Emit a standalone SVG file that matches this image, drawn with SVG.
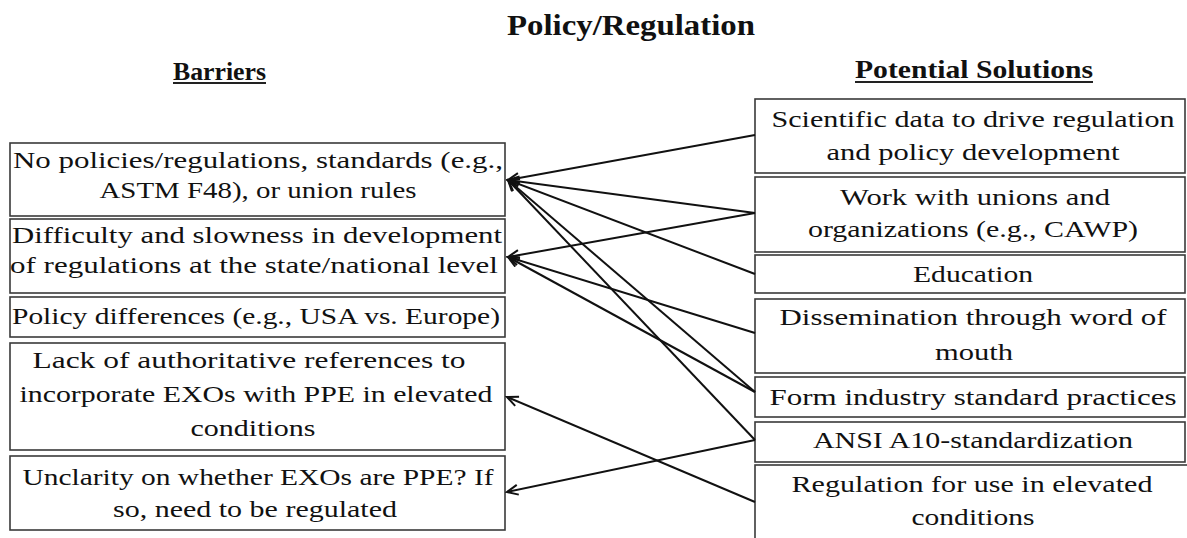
<svg xmlns="http://www.w3.org/2000/svg" width="1187" height="538" viewBox="0 0 1187 538">
<style>
  .box { fill: #ffffff; stroke: #3a3a3a; stroke-width: 1.6; }
  .t { font-family: "Liberation Serif", "Times New Roman", serif; font-size: 23px; fill: #111; text-anchor: middle; }
  .h { font-family: "Liberation Serif", "Times New Roman", serif; font-weight: bold; fill: #111; text-anchor: middle; }
  .ul { stroke: #222; stroke-width: 2; }
  .conn line { stroke: #111; stroke-width: 2; marker-end: url(#arr); }
</style>
<defs>
  <marker id="arr" markerUnits="userSpaceOnUse" markerWidth="14" markerHeight="14" refX="12" refY="6" orient="auto">
    <path d="M1,1 L12,6 L1,11" fill="none" stroke="#111" stroke-width="2"/>
  </marker>
</defs>
<rect width="1187" height="538" fill="#ffffff"/>

<g id="title">
  <text class="h" x="631" y="35" font-size="30" textLength="248" lengthAdjust="spacingAndGlyphs">Policy/Regulation</text>
</g>
<g id="header-barriers">
  <text class="h" x="219.5" y="80" font-size="26" textLength="93" lengthAdjust="spacingAndGlyphs">Barriers</text>
  <line class="ul" x1="173" y1="83" x2="266" y2="83"/>
</g>
<g id="header-solutions">
  <text class="h" x="974" y="78" font-size="26" textLength="238" lengthAdjust="spacingAndGlyphs">Potential Solutions</text>
  <line class="ul" x1="855" y1="82" x2="1093" y2="82"/>
</g>

<!-- Barriers -->
<g id="b1">
  <rect class="box" x="10" y="143" width="495" height="73"/>
  <text class="t" x="258" y="168" textLength="490" lengthAdjust="spacingAndGlyphs">No policies/regulations, standards (e.g.,</text>
  <text class="t" x="258" y="198" textLength="317" lengthAdjust="spacingAndGlyphs">ASTM F48), or union rules</text>
</g>
<g id="b2">
  <rect class="box" x="10" y="219" width="495" height="74"/>
  <text class="t" x="257" y="243" textLength="490" lengthAdjust="spacingAndGlyphs">Difficulty and slowness in development</text>
  <text class="t" x="254" y="273" textLength="488" lengthAdjust="spacingAndGlyphs">of regulations at the state/national level</text>
</g>
<g id="b3">
  <rect class="box" x="10" y="297" width="495" height="40"/>
  <text class="t" x="256" y="324" textLength="488" lengthAdjust="spacingAndGlyphs">Policy differences (e.g., USA vs. Europe)</text>
</g>
<g id="b4">
  <rect class="box" x="10" y="343" width="495" height="107"/>
  <text class="t" x="249" y="368" textLength="433" lengthAdjust="spacingAndGlyphs">Lack of authoritative references to</text>
  <text class="t" x="256" y="402" textLength="473" lengthAdjust="spacingAndGlyphs">incorporate EXOs with PPE in elevated</text>
  <text class="t" x="253" y="436" textLength="125" lengthAdjust="spacingAndGlyphs">conditions</text>
</g>
<g id="b5">
  <rect class="box" x="10" y="456" width="495" height="74"/>
  <text class="t" x="258" y="485" textLength="471" lengthAdjust="spacingAndGlyphs">Unclarity on whether EXOs are PPE? If</text>
  <text class="t" x="255" y="517" textLength="284" lengthAdjust="spacingAndGlyphs">so, need to be regulated</text>
</g>

<!-- Solutions -->
<g id="s1">
  <rect class="box" x="755" y="99" width="430" height="74"/>
  <text class="t" x="973" y="127" textLength="403" lengthAdjust="spacingAndGlyphs">Scientific data to drive regulation</text>
  <text class="t" x="973" y="160" textLength="293" lengthAdjust="spacingAndGlyphs">and policy development</text>
</g>
<g id="s2">
  <rect class="box" x="755" y="177" width="430" height="75"/>
  <text class="t" x="975" y="205" textLength="270" lengthAdjust="spacingAndGlyphs">Work with unions and</text>
  <text class="t" x="973" y="237" textLength="330" lengthAdjust="spacingAndGlyphs">organizations (e.g., CAWP)</text>
</g>
<g id="s3">
  <rect class="box" x="755" y="255" width="430" height="38"/>
  <text class="t" x="973" y="282" textLength="120" lengthAdjust="spacingAndGlyphs">Education</text>
</g>
<g id="s4">
  <rect class="box" x="755" y="299" width="430" height="74"/>
  <text class="t" x="973" y="325" textLength="387" lengthAdjust="spacingAndGlyphs">Dissemination through word of</text>
  <text class="t" x="974" y="360" textLength="78" lengthAdjust="spacingAndGlyphs">mouth</text>
</g>
<g id="s5">
  <rect class="box" x="755" y="377" width="430" height="40"/>
  <text class="t" x="973" y="405" textLength="407" lengthAdjust="spacingAndGlyphs">Form industry standard practices</text>
</g>
<g id="s6">
  <rect class="box" x="755" y="422" width="430" height="40"/>
  <text class="t" x="973" y="448" textLength="320" lengthAdjust="spacingAndGlyphs">ANSI A10-standardization</text>
</g>
<g id="s7">
  <rect class="box" x="755" y="465" width="440" height="85"/>
  <text class="t" x="972" y="492" textLength="361" lengthAdjust="spacingAndGlyphs">Regulation for use in elevated</text>
  <text class="t" x="973" y="525" textLength="123" lengthAdjust="spacingAndGlyphs">conditions</text>
</g>

<g id="connectors" class="conn">
  <line x1="755" y1="135" x2="508" y2="180"/>
  <line x1="755" y1="213" x2="508" y2="180"/>
  <line x1="755" y1="274" x2="508" y2="180"/>
  <line x1="755" y1="392" x2="508" y2="180"/>
  <line x1="755" y1="440" x2="508" y2="180"/>
  <line x1="755" y1="213" x2="508" y2="257"/>
  <line x1="755" y1="333" x2="508" y2="257"/>
  <line x1="755" y1="392" x2="508" y2="257"/>
  <line x1="755" y1="502" x2="507" y2="397"/>
  <line x1="755" y1="440" x2="507" y2="492"/>
</g>
</svg>
